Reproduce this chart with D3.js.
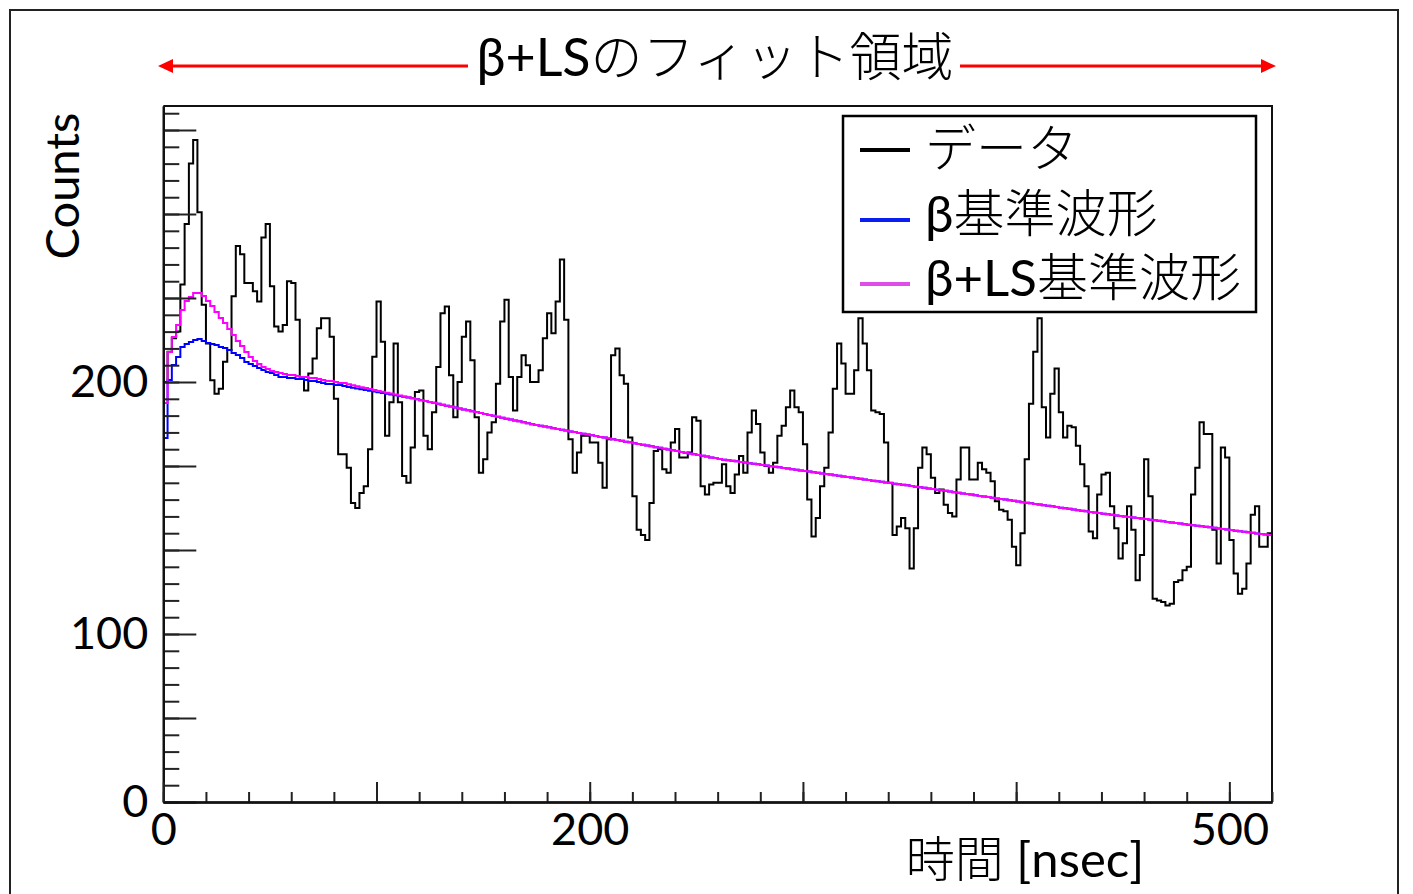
<!DOCTYPE html>
<html>
<head>
<meta charset="utf-8">
<script src="https://cdn.jsdelivr.net/npm/d3@7"></script>
<style>
  body { margin: 0; background: #fff; }
  svg text { font-family: Lato, "Noto Sans CJK JP", sans-serif; fill: #000; }
  .jp { font-weight: 300; }
  .lat { font-weight: 400; }
</style>
</head>
<body>
<svg id="chart" width="1413" height="894"></svg>
<script>
// 2 ns bins from 0 to 520 ns
const binWidth = 2;

// measured counts per bin (black histogram)
const dataCounts = [
  250,268,276,280,308,344,380,394,351,296,
  273,251,243,246,262,269,301,331,326,309,
  309,304,298,336,344,307,283,280,284,310,
  309,287,252,245,255,264,282,288,288,277,
  240,207,207,199,178,175,184,188,210,265,
  298,274,218,238,273,238,194,190,211,244,
  245,218,210,232,259,291,295,254,229,250,
  277,286,263,229,196,204,220,226,249,286,
  299,253,233,253,266,260,250,250,257,276,
  291,279,298,323,287,216,196,208,218,218,
  214,214,202,187,216,266,270,254,249,217,
  182,162,159,156,178,209,210,198,196,214,
  222,205,205,208,229,227,188,183,189,190,
  190,201,188,184,195,206,196,220,233,225,
  208,200,196,202,218,224,235,245,235,232,
  213,180,158,169,188,199,220,246,273,261,
  243,243,257,288,273,257,233,232,231,214,
  190,159,164,169,163,139,163,199,211,207,
  193,184,186,177,172,170,192,211,211,192,
  192,202,198,196,191,179,174,173,168,152,
  141,160,204,237,268,288,235,217,243,258,
  232,217,224,223,212,201,188,161,157,183,
  195,196,176,163,145,154,176,162,132,147,
  204,182,121,120,119,117,118,131,132,138,
  140,183,199,226,219,219,162,142,211,205,
  156,136,124,127,142,171,176,152,152,160
];

// template fits, bins 0-57 (they differ here)
const betaHead = [
  216.7,251.2,260.1,264.9,270.8,272.6,273.8,275.0,275.6,274.4,
  273.2,272.6,272.0,270.8,270.2,269.0,267.3,266.1,264.3,261.9,
  260.7,259.5,258.3,257.1,256.0,255.4,254.2,253.0,253.0,252.4,
  252.4,251.8,251.8,251.2,250.6,250.6,250.0,249.4,248.8,248.8,
  248.2,248.2,247.6,247.1,246.6,246.2,245.7,245.3,244.8,244.4,
  243.9,243.5,243.0,242.6,242.1,241.7,241.2,240.8
];
const betaLsHead = [
  237.5,267.9,276.8,283.9,292.9,298.2,300.6,303.0,303.0,301.2,
  298.2,295.2,291.7,288.1,285.1,281.5,278.0,274.4,271.4,267.9,
  264.9,262.5,260.7,258.9,257.7,256.5,256.0,255.4,254.8,254.2,
  254.2,253.6,253.0,253.0,252.4,252.4,251.8,251.2,250.6,250.6,
  250.0,249.4,249.4,248.6,248.0,247.5,246.9,246.4,245.8,245.3,
  244.7,244.2,243.6,243.1,242.5,242.0,241.4,240.9
];
// bins 58-259: both fits lie on top of each other
const fitTail = [
  240.3,239.8,239.2,238.7,238.1,237.6,237.0,236.5,235.9,235.4,
  234.8,234.3,233.7,233.2,232.6,232.1,231.5,231.0,230.4,229.9,
  229.3,228.8,228.2,227.7,227.1,226.6,226.0,225.5,224.9,224.4,
  223.9,223.5,223.0,222.5,222.0,221.6,221.1,220.6,220.2,219.7,
  219.2,218.8,218.3,217.8,217.3,216.9,216.4,215.9,215.5,215.0,
  214.5,214.1,213.6,213.1,212.6,212.2,211.7,211.2,210.8,210.3,
  209.8,209.4,208.9,208.4,207.9,207.5,207.0,206.5,206.1,205.6,
  205.1,204.7,204.2,203.8,203.5,203.1,202.8,202.4,202.1,201.7,
  201.3,201.0,200.6,200.3,199.9,199.5,199.2,198.8,198.5,198.1,
  197.8,197.4,197.0,196.7,196.3,196.0,195.6,195.2,194.9,194.5,
  194.2,193.8,193.5,193.1,192.7,192.4,192.0,191.7,191.3,190.9,
  190.6,190.2,189.9,189.5,189.2,188.8,188.5,188.1,187.7,187.4,
  187.0,186.6,186.3,185.9,185.5,185.2,184.8,184.4,184.1,183.7,
  183.3,183.0,182.6,182.2,181.9,181.5,181.1,180.7,180.4,180.0,
  179.6,179.3,178.9,178.5,178.2,177.8,177.4,177.1,176.7,176.3,
  176.0,175.6,175.2,174.8,174.5,174.1,173.7,173.4,173.0,172.6,
  172.3,172.0,171.6,171.3,171.0,170.6,170.3,170.0,169.7,169.3,
  169.0,168.7,168.4,168.0,167.7,167.4,167.1,166.7,166.4,166.1,
  165.8,165.4,165.1,164.8,164.5,164.1,163.8,163.5,163.2,162.8,
  162.5,162.2,161.9,161.5,161.2,160.9,160.6,160.2,159.9,159.6,
  159.3,158.9
];

const xLabelTicks = [0, 200, 500];
const yLabelTicks = [0, 100, 250];
const yLabelTexts = ['0', '100', '200'];
// each name split in latin part + japanese part
const legendNames = [['', 'データ'], ['β', '基準波形'], ['β+LS', '基準波形']];
const seriesColors = ['#000000', '#0000ff', '#ff00ff'];
const legendColors = ['#000000', '#0a1ef0', '#dd4ee8'];

const svg = d3.select('#chart');
const frame = { left: 163.3, right: 1272, top: 106, bottom: 802 };

const x = d3.scaleLinear().domain([0, 520]).range([frame.left, frame.right]);
const y = d3.scaleLinear().domain([0, 414.3]).range([frame.bottom, frame.top]);

// outer picture border
svg.append('rect')
  .attr('x', 10).attr('y', 10).attr('width', 1388).attr('height', 900)
  .attr('fill', 'none').attr('stroke', '#222').attr('stroke-width', 2);

// step path like ROOT "HIST"
function stepPath(vals) {
  let p = '';
  vals.forEach((v, i) => {
    const yy = y(v);
    p += (i === 0 ? `M${x(0)},${yy}` : `V${yy}`) + `H${x((i + 1) * binWidth)}`;
  });
  return p;
}

// text with a regular latin part and a light japanese part
function mixedText(sel, parts) {
  if (parts[0]) sel.append('tspan').attr('class', 'lat').text(parts[0]);
  if (parts[1]) sel.append('tspan').attr('class', 'jp').text(parts[1]);
  if (parts[2]) sel.append('tspan').attr('class', 'lat').text(parts[2]);
  return sel;
}

const betaFit = betaHead.concat(fitTail);
const betaLsFit = betaLsHead.concat(fitTail);

svg.append('path').attr('d', stepPath(dataCounts))
  .attr('fill', 'none').attr('stroke', seriesColors[0]).attr('stroke-width', 2);
svg.append('path').attr('d', stepPath(betaFit))
  .attr('fill', 'none').attr('stroke', seriesColors[1]).attr('stroke-width', 2);
svg.append('path').attr('d', stepPath(betaLsFit))
  .attr('fill', 'none').attr('stroke', seriesColors[2]).attr('stroke-width', 2);

// frame top/right
svg.append('path')
  .attr('d', `M${frame.left},${frame.top}H${frame.right}V${frame.bottom}`)
  .attr('fill', 'none').attr('stroke', '#111').attr('stroke-width', 2);

// y axis: minor every 10, major every 50, ticks inside
const yAxisG = svg.append('g').attr('transform', `translate(${frame.left},0)`);
yAxisG.append('g').call(d3.axisLeft(y).tickValues(d3.range(0, 411, 10)).tickSize(-16).tickSizeOuter(0).tickFormat(''));
yAxisG.append('g').call(d3.axisLeft(y).tickValues(d3.range(0, 401, 50)).tickSize(-33).tickSizeOuter(0).tickFormat(''));
yAxisG.append('g').call(d3.axisLeft(y).tickValues(yLabelTicks).tickSize(0).tickPadding(15)
  .tickFormat((d, i) => yLabelTexts[i]));

// x axis: minor every 20, major every 100, ticks pointing up
const xAxisG = svg.append('g').attr('transform', `translate(0,${frame.bottom})`);
xAxisG.append('g').call(d3.axisBottom(x).tickValues(d3.range(0, 521, 20)).tickSize(-10).tickSizeOuter(0).tickFormat(''));
xAxisG.append('g').call(d3.axisBottom(x).tickValues(d3.range(0, 501, 100)).tickSize(-20).tickSizeOuter(0).tickFormat(''));
xAxisG.append('g').call(d3.axisBottom(x).tickValues(xLabelTicks).tickSize(0).tickPadding(11)
  .tickFormat(d3.format('d')));

svg.selectAll('.domain').attr('stroke', '#111').attr('stroke-width', 2);
svg.selectAll('.tick line').attr('stroke', '#222').attr('stroke-width', 2);
svg.selectAll('.tick text')
  .attr('font-size', 45)
  .attr('font-family', 'Lato, "Noto Sans CJK JP", sans-serif')
  .attr('fill', '#000');

// axis titles
svg.append('text')
  .attr('transform', 'translate(79,186) rotate(-90)')
  .attr('text-anchor', 'middle')
  .attr('font-size', 47)
  .text('Counts');

mixedText(svg.append('text')
  .attr('x', 1025).attr('y', 877)
  .attr('text-anchor', 'middle')
  .attr('font-size', 49), ['', '時間', ' [nsec]']);

// fit range title with red arrows
mixedText(svg.append('text')
  .attr('x', 715).attr('y', 76)
  .attr('text-anchor', 'middle')
  .attr('font-size', 52), ['β+LS', 'のフィット領域']);

const arrowY = 66;
svg.append('line').attr('x1', 168).attr('x2', 468).attr('y1', arrowY).attr('y2', arrowY)
  .attr('stroke', '#f00').attr('stroke-width', 3);
svg.append('line').attr('x1', 960).attr('x2', 1266).attr('y1', arrowY).attr('y2', arrowY)
  .attr('stroke', '#f00').attr('stroke-width', 3);
svg.append('polygon').attr('points', `158,${arrowY} 173,${arrowY - 7} 173,${arrowY + 7}`).attr('fill', '#f00');
svg.append('polygon').attr('points', `1276,${arrowY} 1261,${arrowY - 7} 1261,${arrowY + 7}`).attr('fill', '#f00');

// legend
const legend = svg.append('g');
legend.append('rect')
  .attr('x', 843).attr('y', 116).attr('width', 413).attr('height', 196)
  .attr('fill', '#fff').attr('stroke', '#000').attr('stroke-width', 2.5);

const legendRows = [149, 214, 278];
legendNames.forEach((name, i) => {
  legend.append('line')
    .attr('x1', 860).attr('x2', 910)
    .attr('y1', legendRows[i] + (i === 0 ? 1 : 6)).attr('y2', legendRows[i] + (i === 0 ? 1 : 6))
    .attr('stroke', legendColors[i]).attr('stroke-width', 4);
  mixedText(legend.append('text')
    .attr('x', 925).attr('y', legendRows[i])
    .attr('dy', '0.36em')
    .attr('font-size', 51), name);
});
</script>
</body>
</html>
